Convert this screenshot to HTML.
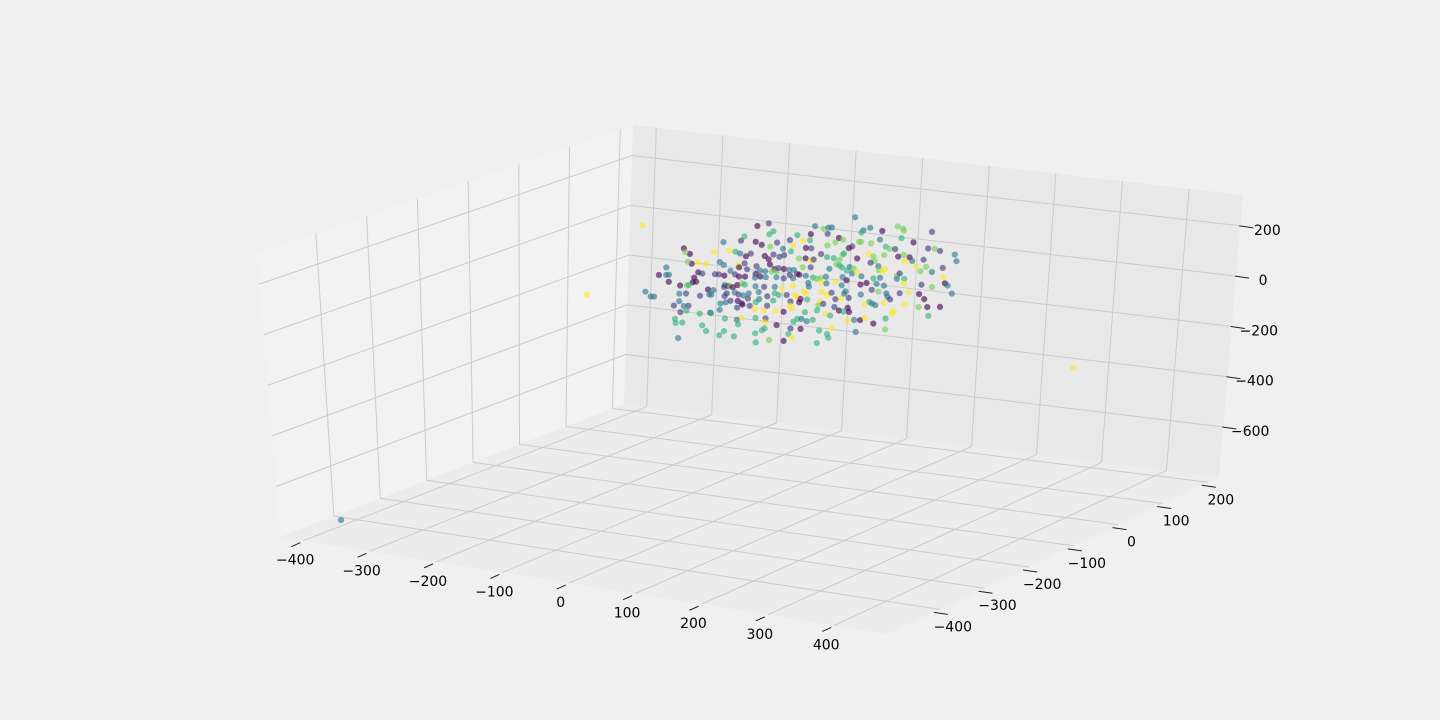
<!DOCTYPE html>
<html><head><meta charset="utf-8"><style>
html,body{margin:0;padding:0;background:#f0f0f0;}
svg{display:block;font-family:"DejaVu Sans","Liberation Sans",sans-serif;}
</style></head><body>
<svg id="chart" width="1440" height="720" viewBox="0 0 1440 720" xmlns="http://www.w3.org/2000/svg">
<rect x="0" y="0" width="1440" height="720" fill="#f0f0f0"/>
<g id="panes"></g>
<g id="grid"></g>
<g id="ticks"></g>
<g id="points"></g>
</svg>
<script>
const xTicks=[-400,-300,-200,-100,0,100,200,300,400];
const yTicks=[-400,-300,-200,-100,0,100,200];
const zTicks=[-600,-400,-200,0,200];
const xs=[-250,-79,-62,-55,-61,-19,-30,-25,-98,-103,-81,-72,-59,-49,-40,-129,-188,-179,-186,-143,-120,-111,-104,-95,-88,-67,-61,-54,-45,-38,-28,-16,-134,-128,-176,-182,-167,-154,-106,-105,-97,-93,-118,-79,-66,-74,-59,-52,-49,-56,-46,-38,-30,-23,-214,-225,-214,-210,-210,-166,-160,-172,-174,-169,-135,-127,-111,-141,-105,-96,-80,-81,-73,-65,-49,-38,-29,-24,-18,-193,-183,-180,-151,-149,-143,-126,-121,-119,-127,-114,-107,-100,-96,-80,-67,-51,-40,-24,-245,-237,-232,-194,-184,-163,-146,-126,-123,-111,-105,-98,-90,-75,-62,-51,-45,-33,-21,-16,-194,-202,-187,-180,-132,-124,-117,-106,-100,-91,-79,-74,-53,-27,-133,-147,-192,-183,-163,-146,-107,-99,-88,-81,-67,-62,-49,-37,-28,-24,-101,-107,-105,-125,-200,-199,-189,-79,-64,-65,-47,-22,-16,-159,-153,-133,-126,-111,-65,-69,-79,-58,-36,-29,-24,-26,-78,-195,
66,89,79,76,107,104,130,138,139,181,7,20,27,32,1,26,0,-10,43,49,38,26,63,58,73,76,91,113,119,127,136,154,176,186,194,216,219,-6,2,-6,2,6,2,-10,17,26,36,45,49,51,71,88,95,97,111,132,140,149,153,142,159,170,174,183,166,199,200,203,207,214,-15,-5,6,11,17,25,30,40,45,49,60,56,64,66,71,78,91,103,104,109,113,96,106,131,135,131,142,-1,0,19,26,40,50,56,49,77,86,101,112,94,104,142,168,184,-7,-4,-12,-14,-2,20,28,34,53,55,60,48,40,78,116,118,136,149,165,173,18,15,22,39,46,59,53,61,84,91,95,100,113,122,144,165,178,197,-5,13,27,33,-10,-2,7,59,69,78,85,116,128,125,98,180,-11,17,29,31,36,72,116,14,
-410,400,-333];
const ys=[0,0,0,0,0,0,0,0,0,0,0,0,0,0,0,0,0,0,0,0,0,0,0,0,0,0,0,0,0,0,0,0,0,0,0,0,0,0,0,0,0,0,0,0,0,0,0,0,0,0,0,0,0,0,0,0,0,0,0,0,0,0,0,0,0,0,0,0,0,0,0,0,0,0,0,0,0,0,0,0,0,0,0,0,0,0,0,0,0,0,0,0,0,0,0,0,0,0,0,0,0,0,0,0,0,0,0,0,0,0,0,0,0,0,0,0,0,0,0,0,0,0,0,0,0,0,0,0,0,0,0,0,0,0,0,0,0,0,0,0,0,0,0,0,0,0,0,0,0,0,0,0,0,0,0,0,0,0,0,0,0,0,0,0,0,0,0,0,0,0,0,0,0,0,0,0,
0,0,0,0,0,0,0,0,0,0,0,0,0,0,0,0,0,0,0,0,0,0,0,0,0,0,0,0,0,0,0,0,0,0,0,0,0,0,0,0,0,0,0,0,0,0,0,0,0,0,0,0,0,0,0,0,0,0,0,0,0,0,0,0,0,0,0,0,0,0,0,0,0,0,0,0,0,0,0,0,0,0,0,0,0,0,0,0,0,0,0,0,0,0,0,0,0,0,0,0,0,0,0,0,0,0,0,0,0,0,0,0,0,0,0,0,0,0,0,0,0,0,0,0,0,0,0,0,0,0,0,0,0,0,0,0,0,0,0,0,0,0,0,0,0,0,0,0,0,0,0,0,0,0,0,0,0,0,0,0,0,0,0,0,0,0,0,0,0,0,0,0,0,0,0,0,
-420,0,0];
const zs=[138,190,206,177,163,173,150,129,143,124,127,118,115,134,113,110,66,47,52,65,80,78,73,65,78,75,64,85,79,88,106,82,29,20,9,15,18,16,25,18,36,14,0,31,15,16,44,28,22,17,34,33,32,34,-18,-52,-48,-46,-74,-22,-25,-45,-64,-60,-20,-22,-12,-21,-19,-16,0,-15,-8,-8,-3,-4,12,1,20,-83,-80,-77,-85,-104,-85,-59,-62,-61,-67,-64,-53,-44,-48,-49,-47,-42,-45,-28,-125,-141,-140,-116,-112,-114,-104,-103,-91,-84,-90,-91,-80,-70,-83,-67,-72,-68,-64,-72,-146,-166,-163,-159,-135,-127,-119,-116,-123,-101,-112,-98,-97,-92,-160,-176,-189,-180,-185,-178,-143,-128,-129,-140,-141,-120,-137,-136,-109,-118,-182,-191,-208,-192,-218,-234,-229,-174,-171,-187,-192,-170,-157,-230,-251,-261,-242,-258,-211,-220,-235,-255,-251,-221,-235,-198,-271,-293,
271,237,224,214,230,195,255,249,241,250,217,211,218,220,184,193,159,154,182,177,163,147,155,147,176,177,176,170,163,165,211,200,183,185,179,172,147,127,128,86,80,85,53,49,110,101,100,97,118,123,110,134,126,108,136,137,146,140,127,121,107,137,110,93,90,114,78,55,47,18,18,17,14,10,15,23,56,78,74,67,73,57,49,69,57,42,100,90,75,70,81,39,45,62,72,49,53,-10,-24,-3,-3,10,30,19,-3,9,18,20,16,-6,-10,34,38,34,-45,-54,-77,-91,-76,-39,-47,-37,-35,-25,-49,-56,-61,-30,-13,-26,-6,2,0,-17,-77,-94,-85,-92,-104,-89,-105,-104,-66,-55,-60,-65,-51,-35,-47,-51,-47,-40,-127,-114,-124,-128,-155,-162,-153,-138,-133,-131,-120,-112,-79,-89,-138,-81,-195,-192,-202,-216,-176,-180,-155,-243,
-790,-213,-166];
const cs=[1,0,0.2,0.72,0.72,0.72,0.2,1,0.72,0.2,0,0,0.88,0.2,0.45,0.45,0,0,0.88,1,1,0.72,0.45,0,0.2,0,0,0.2,0.2,0.2,0.72,0.88,0.45,0.45,0,0.88,1,1,1,0,0.2,0.2,0.45,0.2,0.45,0.45,0,0,0.88,0.88,0.2,0,0.45,0.45,0.45,0,0.45,0.45,0,0,0.2,0,0,0,0.2,0,0.2,0.2,0,0,0,0.45,0,0.45,0.45,0.2,0.2,0.45,0.2,0,0.88,0.72,0,0.45,0.45,0.45,0,0.88,0.2,0,0,0.88,0.72,0.45,0.2,0.45,1,1,0.45,0.45,0.45,0.45,0.2,0.2,0.45,0.2,0.2,0.45,0.2,0.45,0.45,0.45,0.2,0.72,0.72,0.2,1,1,0.45,0.2,0.45,0.2,0.45,0.45,0.2,0,0.2,0.2,0.72,0.45,0.72,0.2,0.45,0.2,0.2,0.72,0.72,0.72,0.2,0,0.2,1,1,0.2,1,0,1,1,1,0.45,0.72,0.72,0.72,0.72,0.72,0.72,0.2,1,0,0.72,0.72,0.72,0.72,0.72,0.72,0.72,0.72,0.72,0.72,0.88,0,0.72,1,0.2,0.72,0.45,
0.45,0.45,0.45,0.72,0,0.45,0.88,0.88,0.88,0.2,0.45,0.88,0.45,0.45,0,0.2,0.72,1,0,0.88,0.88,0.88,0.2,0,0.88,0.88,0.88,0.72,0.88,0.2,0.72,0,0.2,0.88,0.2,0.45,0.45,0,0.2,0,1,0.2,0.2,0.88,0.2,0.72,0.72,0.88,0.88,0.72,0,1,0.88,0.88,0.88,0,0.88,0,0.45,1,1,0.2,0.88,0.45,0.88,0.2,1,0,0.45,0.45,0,0.45,0.72,0.88,0.88,0.45,0.45,0.88,0.72,0.72,0.45,0.72,0.45,0.88,1,0.45,0.2,0.45,0.88,1,1,0.72,0.45,0.88,0.2,0.45,0.72,0.45,0.45,1,0.45,1,0.45,0,0.45,0,0,0.45,0.45,0.2,0.88,1,0.2,0.88,1,1,0,0,0.72,1,1,0.2,0.45,0.45,0.2,1,0.2,0.45,0.45,0.45,0.2,1,0,0,1,0.88,0.2,0.2,0,0,0.72,0,1,0.72,0.45,0.45,1,0.2,1,0.88,0,0,0.72,0.72,1,0.72,0.45,0.45,0.72,1,0.45,0,1,0.72,1,1,0,0.72,0,0.72,0.72,0.72,1,0.45,0.88,0.72,
0.45,1,1];

const XR=[-435,481], YR=[-516,225], ZR=[-799,323];
const FL={L:[280,537],F:[888,634],R:[1219,477],B:[624,404]};
const TP={L:[257,253],F:[885,335],R:[1243,195],B:[633,125]};
function bil(C,u,v){
  const a=(1-u)*(1-v),b=u*(1-v),c=u*v,d=(1-u)*v;
  return [a*C.L[0]+b*C.F[0]+c*C.R[0]+d*C.B[0], a*C.L[1]+b*C.F[1]+c*C.R[1]+d*C.B[1]];
}
function projUVW(u,v,w){const f=bil(FL,u,v),t=bil(TP,u,v);return [f[0]+(t[0]-f[0])*w,f[1]+(t[1]-f[1])*w];}
function U(x){return (x-XR[0])/(XR[1]-XR[0]);}
function V(y){return (y-YR[0])/(YR[1]-YR[0]);}
function W(z){return (z-ZR[0])/(ZR[1]-ZR[0]);}
function proj(x,y,z){return projUVW(U(x),V(y),W(z));}

const NS='http://www.w3.org/2000/svg';
function mk(tag,parent){const e=document.createElementNS(NS,tag);parent.appendChild(e);return e;}
const panes=document.getElementById('panes');
function poly(pts,fill,name){
  const p=mk('polygon',panes);
  p.setAttribute('points',pts.map(q=>q.join(',')).join(' '));
  p.setAttribute('fill',fill);
  
  
}
poly([projUVW(0,0,0),projUVW(0,1,0),projUVW(0,1,1),projUVW(0,0,1)],'#f2f2f2','left-wall-pane');
poly([projUVW(0,1,0),projUVW(1,1,0),projUVW(1,1,1),projUVW(0,1,1)],'#e9e9e9','back-wall-pane');
poly([projUVW(0,0,0),projUVW(1,0,0),projUVW(1,1,0),projUVW(0,1,0)],'#ececec','floor-pane');

const grid=document.getElementById('grid');
function line(g,a,b,col,w,name){
  const l=mk('line',g);
  l.setAttribute('x1',a[0]);l.setAttribute('y1',a[1]);l.setAttribute('x2',b[0]);l.setAttribute('y2',b[1]);
  l.setAttribute('stroke',col);l.setAttribute('stroke-width',w);
  
  
}
const GC='#cbcbcb';
yTicks.forEach(t=>{const v=V(t);
  line(grid,projUVW(0,v,0),projUVW(0,v,1),GC,1,'gridline-y-wall');
  line(grid,projUVW(0,v,0),projUVW(1,v,0),GC,1,'gridline-y-floor');});
xTicks.forEach(t=>{const u=U(t);
  line(grid,projUVW(u,1,0),projUVW(u,1,1),GC,1,'gridline-x-wall');
  line(grid,projUVW(u,0,0),projUVW(u,1,0),GC,1,'gridline-x-floor');});
zTicks.forEach(t=>{const w=W(t);
  line(grid,projUVW(0,0,w),projUVW(0,1,w),GC,1,'gridline-z-left');
  line(grid,projUVW(0,1,w),projUVW(1,1,w),GC,1,'gridline-z-back');});

const tk=document.getElementById('ticks');
function label(x,y,s,name){
  const t=mk('text',tk);
  t.setAttribute('x',x);t.setAttribute('y',y);
  t.setAttribute('text-anchor','middle');t.setAttribute('dominant-baseline','central');
  t.setAttribute('font-size','14');t.setAttribute('fill','#000');
  t.textContent=s;
  
  
}
function fmt(t){return t<0?'\u2212'+Math.abs(t):String(t);}
xTicks.forEach(t=>{const p=proj(t,YR[0],ZR[0]);
  line(tk,[p[0]-3,p[1]+2],[p[0]-12,p[1]+6],'#222',1,'x-tick-mark');
  label(p[0]-8,p[1]+20,fmt(t),'x-tick-label');});
yTicks.forEach(t=>{const p=proj(XR[1],t,ZR[0]);
  line(tk,[p[0]-6,p[1]+3],[p[0]+8,p[1]+5],'#222',1,'y-tick-mark');
  label(p[0]+13,p[1]+18,fmt(t),'y-tick-label');});
zTicks.forEach(t=>{const p=proj(XR[1],YR[1],t);
  line(tk,[p[0]-1,p[1]],[p[0]+13,p[1]+2],'#222',1,'z-tick-mark');
  label(p[0]+27,p[1]+5,fmt(t),'z-tick-label');});

const VIR=['#440154','#482878','#3e4989','#31688e','#26828e','#1f9e89','#35b779','#6ece58','#fde725'];
function hex(h){return [parseInt(h.substr(1,2),16),parseInt(h.substr(3,2),16),parseInt(h.substr(5,2),16)];}
function viridis(c){
  const s=Math.max(0,Math.min(1,c))*8,i=Math.min(7,Math.floor(s)),f=s-i;
  const a=hex(VIR[i]),b=hex(VIR[i+1]);
  return 'rgb('+a.map((v,k)=>Math.round(v+(b[k]-v)*f)).join(',')+')';
}
const pg=document.getElementById('points');
for(let i=0;i<xs.length;i++){
  const p=proj(xs[i],ys[i],zs[i]);
  const c=mk('circle',pg);
  c.setAttribute('cx',p[0].toFixed(1));c.setAttribute('cy',p[1].toFixed(1));
  c.setAttribute('r','3.1');
  c.setAttribute('fill',viridis(cs[i]));
  c.setAttribute('fill-opacity','0.62');
  
  
}
</script>
</body></html>
